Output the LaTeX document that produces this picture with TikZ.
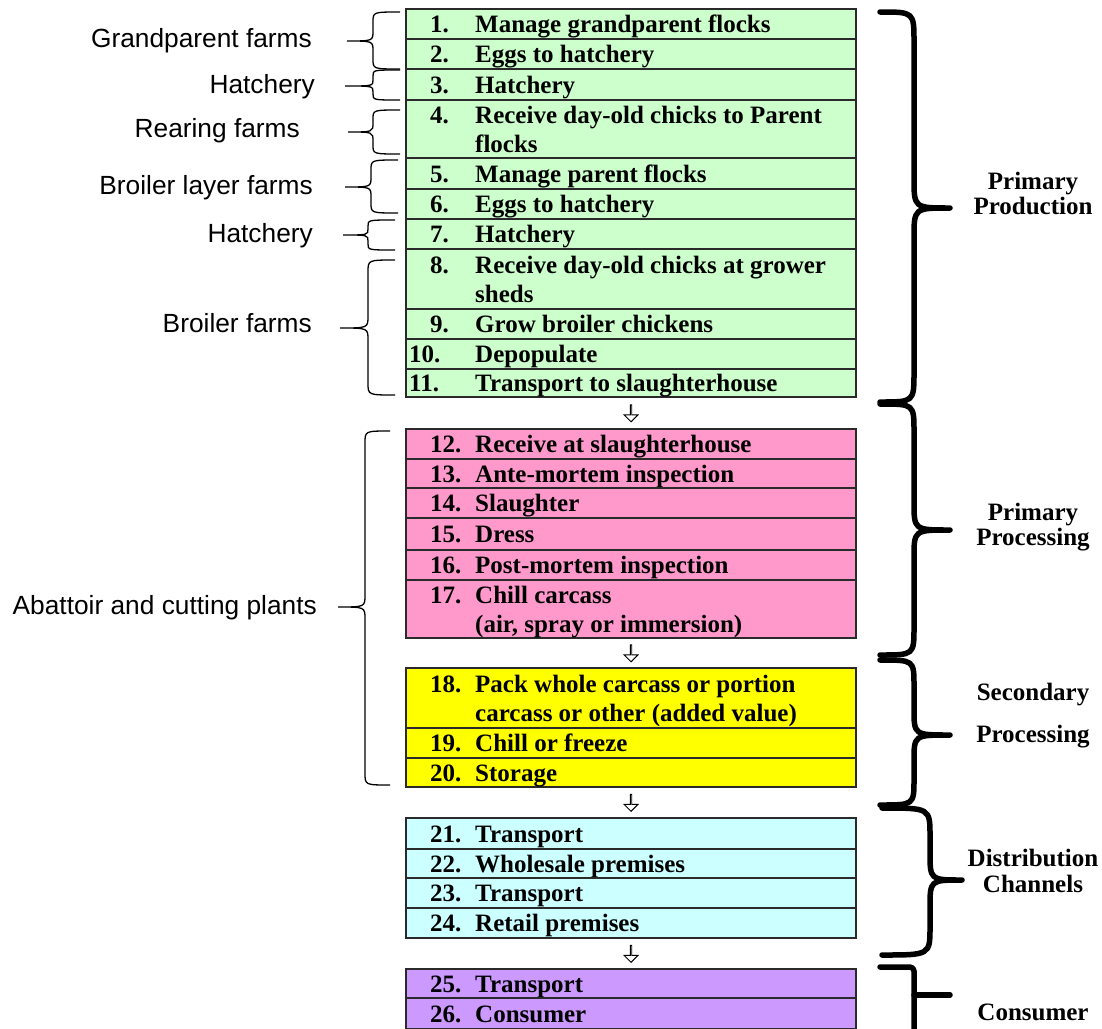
\documentclass[tikz,border=0pt]{standalone}
\usepackage{fontspec}
\setmainfont{Liberation Serif}
\newfontfamily\labelfont{Liberation Sans}
\usetikzlibrary{calc,shapes.arrows}

\definecolor{prodgreen}{HTML}{CCFFCC}
\definecolor{procpink}{HTML}{FF99CC}
\definecolor{secyellow}{HTML}{FFFF00}
\definecolor{distcyan}{HTML}{CCFFFF}
\definecolor{conspurple}{HTML}{CC99FF}
\definecolor{rowline}{HTML}{2A2A2A}

\newcommand\stepfont{\fontsize{25}{29}\selectfont\bfseries}
\newcommand\sitefont{\labelfont\fontsize{26.3}{30}\selectfont}

\tikzset{
  rowbox/.style={draw=rowline, line width=1.4pt, anchor=north west,
    minimum width=450pt, inner sep=0pt, outer sep=0pt},
  steptext/.style={anchor=base west, inner sep=0pt, font=\stepfont},
  sitelabel/.style={anchor=base east, inner sep=0pt, font=\sitefont},
  stagelabel/.style={anchor=base, inner sep=0pt, font=\stepfont},
  thinbrace/.style={line width=1.3pt},
  thickbrace/.style={line width=5.5pt, line cap=round, line join=round},
  flowarrow/.style={single arrow, draw=black, fill=white, line width=0.9pt,
    shape border rotate=270, inner sep=0pt, minimum height=17pt,
    minimum width=14pt, single arrow head extend=4pt}
}

% one-line step: id, top, height, fill, number x, number, text
\newcommand\onerow[7]{%
  \node[rowbox, fill=#4, minimum height=#3pt] (r#1) at (406,#2) {};
  \node[steptext] (n#1) at ({#5},{#2+#3/2+8.5}) {#6};
  \node[steptext] (t#1) at (475,{#2+#3/2+8.5}) {#7};}

% two-line step: id, top, height, fill, number x, number, line 1, line 2
\newcommand\tworow[8]{%
  \node[rowbox, fill=#4, minimum height=#3pt] (r#1) at (406,#2) {};
  \node[steptext] (n#1) at ({#5},{#2+#3/2-5.5}) {#6};
  \node[steptext] (t#1) at (475,{#2+#3/2-5.5}) {#7};
  \node[steptext] (u#1) at (475,{#2+#3/2+23}) {#8};}

% curly brace: style, end x, spine x, tip x, top y, tip y, bottom y, curl
\newcommand\bracepath[8]{%
  \draw[#1] (#2,#5) .. controls (#3,#5) .. (#3,{#5+#8})
    -- (#3,{#6-#8}) .. controls (#3,#6) .. (#4,#6)
    .. controls (#3,#6) .. (#3,{#6+#8})
    -- (#3,{#7-#8}) .. controls (#3,#7) .. (#2,#7);}

\begin{document}
\begin{tikzpicture}[x=1pt, y=-1pt]
\useasboundingbox (0,0) rectangle (1102,1028);
\fill[white] (0,0) rectangle (1102,1028);

% primary production
\onerow{1}{9}{30}{prodgreen}{430}{1.}{Manage grandparent flocks}
\onerow{2}{39}{30}{prodgreen}{430}{2.}{Eggs to hatchery}
\onerow{3}{69}{31}{prodgreen}{430}{3.}{Hatchery}
\tworow{4}{100}{58}{prodgreen}{430}{4.}{Receive day-old chicks to Parent}{flocks}
\onerow{5}{158}{31}{prodgreen}{430}{5.}{Manage parent flocks}
\onerow{6}{189}{30}{prodgreen}{430}{6.}{Eggs to hatchery}
\onerow{7}{219}{30}{prodgreen}{430}{7.}{Hatchery}
\tworow{8}{249}{60}{prodgreen}{430}{8.}{Receive day-old chicks at grower}{sheds}
\onerow{9}{309}{30}{prodgreen}{430}{9.}{Grow broiler chickens}
\onerow{10}{339}{30}{prodgreen}{409}{10.}{Depopulate}
\onerow{11}{369}{28}{prodgreen}{409}{11.}{Transport to slaughterhouse}

% primary processing
\onerow{12}{429}{30}{procpink}{430}{12.}{Receive at slaughterhouse}
\onerow{13}{459}{29}{procpink}{430}{13.}{Ante-mortem inspection}
\onerow{14}{488}{30}{procpink}{430}{14.}{Slaughter}
\onerow{15}{518}{32}{procpink}{430}{15.}{Dress}
\onerow{16}{550}{30}{procpink}{430}{16.}{Post-mortem inspection}
\tworow{17}{580}{58}{procpink}{430}{17.}{Chill carcass}{(air, spray or immersion)}

% secondary processing
\tworow{18}{668}{60}{secyellow}{430}{18.}{Pack whole carcass or portion}{carcass or other (added value)}
\onerow{19}{728}{30}{secyellow}{430}{19.}{Chill or freeze}
\onerow{20}{758}{29}{secyellow}{430}{20.}{Storage}

% distribution
\onerow{21}{818}{31}{distcyan}{430}{21.}{Transport}
\onerow{22}{849}{29}{distcyan}{430}{22.}{Wholesale premises}
\onerow{23}{878}{30}{distcyan}{430}{23.}{Transport}
\onerow{24}{908}{30}{distcyan}{430}{24.}{Retail premises}

% consumer
\onerow{25}{969}{29}{conspurple}{430}{25.}{Transport}
\onerow{26}{998}{31}{conspurple}{430}{26.}{Consumer}

% flow arrows between the stages
\node[flowarrow] (a1) at ($(r11.south)!0.5!(r12.north)$) {};
\node[flowarrow] (a2) at ($(r17.south)!0.5!(r18.north)$) {};
\node[flowarrow] (a3) at ($(r20.south)!0.5!(r21.north)$) {};
\node[flowarrow] (a4) at ($(r24.south)!0.5!(r25.north)$) {};

% sites on the left
\bracepath{thinbrace}{400}{373}{347}{12}{41}{69}{10}
\bracepath{thinbrace}{400}{373}{345}{70}{86}{100}{6}
\bracepath{thinbrace}{400}{373}{348}{110}{132}{154}{9}
\bracepath{thinbrace}{398}{371}{345}{160}{187}{213}{10}
\bracepath{thinbrace}{395}{368}{343}{220}{235}{250}{6}
\bracepath{thinbrace}{395}{368}{340}{260}{328}{395}{12}
\bracepath{thinbrace}{390}{365}{338}{431}{607}{785}{12}

\node[sitelabel] (s1) at (312,47) {Grandparent farms};
\node[sitelabel] (s2) at (315,93) {Hatchery};
\node[sitelabel] (s3) at (300,137) {Rearing farms};
\node[sitelabel] (s4) at (313,194) {Broiler layer farms};
\node[sitelabel] (s5) at (313,242) {Hatchery};
\node[sitelabel] (s6) at (312,332) {Broiler farms};
\node[sitelabel] (s7) at (317,614) {Abattoir and cutting plants};

% stages on the right
\bracepath{thickbrace}{880}{914}{950}{12}{208}{402}{30}
\bracepath{thickbrace}{880}{914}{950}{404}{530}{655}{28}
\bracepath{thickbrace}{880}{914}{950}{660}{735}{805}{26}
\bracepath{thickbrace}{882}{930}{962}{808}{880}{955}{28}
\draw[thickbrace, rounded corners=4pt] (880,967) -- (914,967) -- (914,1040);
\draw[thickbrace] (914,995) -- (950,995);

\node[stagelabel] (g1a) at (1033,189) {Primary};
\node[stagelabel] (g1b) at (1033,214) {Production};
\node[stagelabel] (g2a) at (1033,520) {Primary};
\node[stagelabel] (g2b) at (1033,545) {Processing};
\node[stagelabel] (g3a) at (1033,700) {Secondary};
\node[stagelabel] (g3b) at (1033,742) {Processing};
\node[stagelabel] (g4a) at (1033,866) {Distribution};
\node[stagelabel] (g4b) at (1033,892) {Channels};
\node[stagelabel] (g5) at (1033,1020) {Consumer};
\end{tikzpicture}
\end{document}
